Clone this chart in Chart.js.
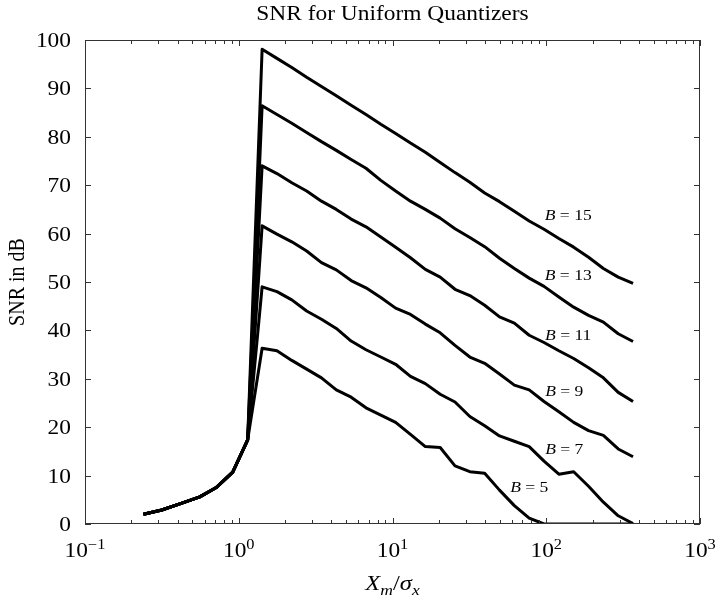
<!DOCTYPE html>
<html>
<head>
<meta charset="utf-8">
<script src="https://cdn.jsdelivr.net/npm/chart.js@4/dist/chart.umd.min.js"></script>
<style>
  html, body { margin: 0; padding: 0; background: #fff; }
  #wrap { width: 716px; height: 605px; }
</style>
</head>
<body>
<div id="wrap"><canvas id="snr_chart"></canvas></div>
<script>
// X_m / sigma_x sample points (shared by every curve)
const xRatio = [0.240, 0.316, 0.427, 0.558, 0.719, 0.914, 1.143,
  1.419, 1.772, 2.213, 2.764, 3.451, 4.310, 5.383, 6.722, 8.395, 10.48,
  13.09, 16.35, 20.42, 25.50, 31.84, 39.77, 49.66, 62.02, 77.45, 96.72,
  120.8, 150.8, 188.4, 235.3, 293.8, 366.8];

// clipping-dominated part, identical for all B
const clipRegion = [2.0, 2.9, 4.3, 5.6, 7.6, 10.7, 17.4];

// SNR (dB) after the peak, one list per word length
const snrB5  = [36.3, 35.8, 33.8, 32.0, 30.2, 27.7, 26.2, 24.0, 22.5, 21.0, 18.5, 16.0, 15.8, 12.0, 10.8, 10.5, 7.0, 3.8, 1.2, 0, 0, 0, 0, 0, 0, 0];
const snrB7  = [49.0, 48.0, 46.3, 44.0, 42.3, 40.4, 37.8, 36.0, 34.5, 33.0, 30.5, 29.0, 26.8, 25.2, 22.2, 20.3, 18.2, 17.1, 16.0, 13.0, 10.3, 10.8, 7.8, 4.5, 1.7, 0.1];
const snrB9  = [61.6, 59.9, 58.3, 56.4, 54.0, 52.5, 50.3, 48.8, 46.8, 44.6, 43.3, 41.3, 39.5, 36.9, 34.5, 33.2, 31.0, 28.7, 27.7, 25.3, 23.2, 21.0, 19.3, 18.3, 15.5, 13.9];
const snrB11 = [74.0, 72.4, 70.5, 68.8, 66.7, 65.0, 63.0, 61.4, 59.3, 57.2, 55.0, 52.6, 51.0, 48.5, 47.2, 45.2, 42.8, 41.5, 39.0, 37.5, 35.8, 34.2, 32.3, 30.2, 27.2, 25.3];
const snrB13 = [86.4, 84.6, 82.8, 80.9, 79.0, 77.2, 75.3, 73.5, 71.0, 68.8, 66.7, 65.0, 63.2, 61.0, 59.2, 57.3, 54.9, 52.8, 50.8, 49.1, 46.9, 44.8, 43.1, 41.7, 39.3, 37.7];
const snrB15 = [98.1, 96.2, 94.3, 92.3, 90.4, 88.5, 86.5, 84.6, 82.6, 80.7, 78.7, 76.8, 74.7, 72.6, 70.6, 68.4, 66.6, 64.6, 62.6, 60.9, 59.0, 57.2, 55.1, 52.8, 51.0, 49.7];

const bits = [5, 7, 9, 11, 13, 15];
const series = [snrB5, snrB7, snrB9, snrB11, snrB13, snrB15];

// where the "B = n" notes sit, in data units (centre of text)
const noteX = [77.5, 131, 131, 139, 139, 139];
const noteY = [7.7, 15.5, 27.5, 39.0, 51.4, 63.8];

const yTicks = [0, 10, 20, 30, 40, 50, 60, 70, 80, 90, 100];
const decades = [-1, 0, 1, 2, 3];

const SERIF = '"Liberation Serif", "Times New Roman", serif';
const SX = 1.17;  // the original figure is a little wider than tall

function wideText(ctx, str, px, py, align) {
  ctx.save();
  ctx.translate(px, py);
  ctx.scale(SX, 1);
  ctx.textAlign = align;
  ctx.fillText(str, 0, 0);
  ctx.restore();
}

const decorate = {
  id: 'decorate',
  afterDraw(chart) {
    const { ctx, chartArea: a, scales: { x, y } } = chart;
    ctx.save();

    // box
    ctx.strokeStyle = '#333';
    ctx.lineWidth = 1;
    ctx.strokeRect(a.left + 0.5, a.top + 0.5, a.right - a.left - 1, a.bottom - a.top - 1);

    // inward ticks on the log axis
    ctx.beginPath();
    decades.forEach(d => {
      for (let m = 1; m <= 9; m++) {
        if (d === 3 && m > 1) break;
        const px = Math.round(x.getPixelForValue(m * Math.pow(10, d))) + 0.5;
        const len = m === 1 ? 6 : 4;
        ctx.moveTo(px, a.bottom); ctx.lineTo(px, a.bottom - len);
        ctx.moveTo(px, a.top); ctx.lineTo(px, a.top + len);
      }
    });
    yTicks.forEach(v => {
      const py = Math.round(y.getPixelForValue(v)) + 0.5;
      ctx.moveTo(a.left, py); ctx.lineTo(a.left + 6, py);
      ctx.moveTo(a.right, py); ctx.lineTo(a.right - 6, py);
    });
    ctx.stroke();

    ctx.fillStyle = '#000';
    ctx.textBaseline = 'alphabetic';

    // y tick labels
    ctx.font = '20px ' + SERIF;
    yTicks.forEach(v => {
      wideText(ctx, String(v), a.left - 14, y.getPixelForValue(v) + 7, 'right');
    });

    // x tick labels 10^n
    decades.forEach(d => {
      const px = x.getPixelForValue(Math.pow(10, d));
      ctx.font = '20px ' + SERIF;
      const w1 = ctx.measureText('10').width * SX;
      ctx.font = '14px ' + SERIF;
      const exp = d < 0 ? '\u2212' + Math.abs(d) : String(d);
      const w2 = ctx.measureText(exp).width * SX;
      const left = px - (w1 + w2) / 2;
      ctx.font = '20px ' + SERIF;
      wideText(ctx, '10', left, a.bottom + 33, 'left');
      ctx.font = '14px ' + SERIF;
      wideText(ctx, exp, left + w1, a.bottom + 25, 'left');
    });

    // axis titles
    ctx.font = '20px ' + SERIF;
    ctx.save();
    ctx.translate(18, (a.top + a.bottom) / 2);
    ctx.scale(SX, 1);
    ctx.rotate(-Math.PI / 2);
    ctx.textAlign = 'center';
    ctx.textBaseline = 'middle';
    ctx.fillText('SNR in dB', 0, 0);
    ctx.restore();

    // X_m / sigma_x
    const parts = [
      ['X', 'italic 21px ' + SERIF, 0],
      ['m', 'italic 15px ' + SERIF, 5],
      ['/', '21px ' + SERIF, 0],
      ['\u03c3', 'italic 21px ' + SERIF, 0],
      ['x', 'italic 15px ' + SERIF, 5]
    ];
    let total = 0;
    parts.forEach(p => { ctx.font = p[1]; total += ctx.measureText(p[0]).width * SX; });
    let cx = (a.left + a.right) / 2 - total / 2;
    parts.forEach(p => {
      ctx.font = p[1];
      wideText(ctx, p[0], cx, 590 + p[2], 'left');
      cx += ctx.measureText(p[0]).width * SX;
    });

    // title
    ctx.font = '20px ' + SERIF;
    wideText(ctx, 'SNR for Uniform Quantizers', (a.left + a.right) / 2, 20, 'center');

    // B = n notes
    bits.forEach((b, i) => {
      const px = x.getPixelForValue(noteX[i]);
      const py = y.getPixelForValue(noteY[i]) + 5;
      ctx.font = 'italic 15px ' + SERIF;
      const wb = ctx.measureText('B').width * SX;
      ctx.font = '15px ' + SERIF;
      const rest = ' = ' + b;
      const wr = ctx.measureText(rest).width * SX;
      const left = px - (wb + wr) / 2;
      ctx.font = 'italic 15px ' + SERIF;
      wideText(ctx, 'B', left, py, 'left');
      ctx.font = '15px ' + SERIF;
      wideText(ctx, rest, left + wb, py, 'left');
    });

    ctx.restore();
  }
};

document.addEventListener('DOMContentLoaded', function() {
  const ctx = document.getElementById('snr_chart').getContext('2d');
  const datasets = series.map((vals, i) => ({
    label: 'B = ' + bits[i],
    data: xRatio.map((xv, k) => ({ x: xv, y: clipRegion.concat(vals)[k] })),
    borderColor: '#000',
    backgroundColor: '#000',
    borderWidth: 3,
    pointRadius: 0,
    tension: 0,
    borderJoinStyle: 'round',
    fill: false
  }));

  new Chart(ctx, {
    type: 'line',
    data: { datasets: datasets },
    options: {
      responsive: true,
      maintainAspectRatio: false,
      animation: false,
      devicePixelRatio: 1,
      layout: { padding: { left: 85, right: 16, top: 40, bottom: 81 } },
      scales: {
        x: { type: 'logarithmic', min: 0.1, max: 1000, display: false },
        y: { type: 'linear', min: 0, max: 100, display: false }
      },
      plugins: {
        legend: { display: false },
        tooltip: { enabled: false },
        title: { display: false }
      }
    },
    plugins: [decorate]
  });
});
</script>
</body>
</html>
